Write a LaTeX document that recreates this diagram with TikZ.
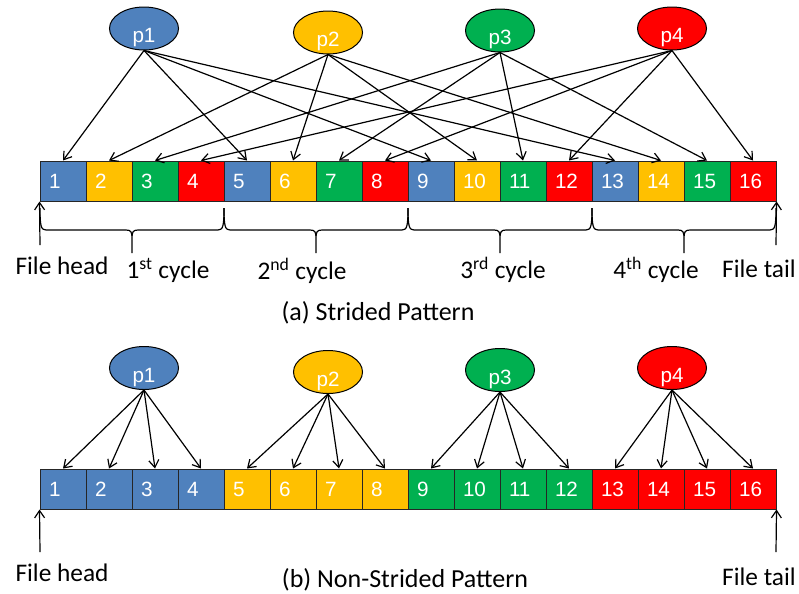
\documentclass[tikz,border=0pt]{standalone}
\usepackage{fontspec}
\setmainfont{Carlito}
\newfontfamily\arialfont{Liberation Sans}
\usetikzlibrary{shapes.geometric,arrows.meta}

\definecolor{pc0}{HTML}{4F81BD}
\definecolor{pc1}{HTML}{FFC000}
\definecolor{pc2}{HTML}{00B050}
\definecolor{pc3}{HTML}{FF0000}

\begin{document}
\begin{tikzpicture}[
  x=0.75pt,y=-0.75pt,
  block/.style={rectangle,draw=black!85,line width=0.75pt,minimum width=34.5pt,minimum height=30pt,inner xsep=6.75pt,inner ysep=0,text width=21pt,align=left,text=white,font={\arialfont\fontsize{15.5}{18}\selectfont}},
  proc/.style={ellipse,draw,line width=0.75pt,minimum width=51.75pt,minimum height=32.25pt,inner sep=0,text height=21pt,text depth=0pt,text=white,font={\arialfont\fontsize{15.5}{18}\selectfont}},
  access/.style={-{Straight Barb[length=5.5pt,width=7.5pt]},line width=0.9pt},
  bracket/.style={line width=0.9pt},
  lbl/.style={anchor=base,inner sep=0,font={\fontsize{19}{22}\selectfont}},
  caption/.style={lbl,font={\fontsize{19.5}{22}\selectfont}},
]
  \useasboundingbox (0,0) rectangle (799,593);

  % the two rows of file blocks
  \foreach \i in {1,...,16}{
    \pgfmathtruncatemacro\c{mod(\i-1,4)}
    \node[block,fill=pc\c] (t\i) at (17+46*\i,181) {\i};
    \pgfmathtruncatemacro\c{div(\i-1,4)}
    \node[block,fill=pc\c] (b\i) at (17+46*\i,489) {\i};
  }

  % processes
  \foreach \k/\x/\y in {1/144/28.5,2/328/32.5,3/500/30.5,4/672/28.5}{
    \pgfmathtruncatemacro\c{\k-1}
    \node[proc,fill=pc\c] (tp\k) at (\x,\y) {p\k};
    \node[proc,fill=pc\c] (bp\k) at (\x,\y+339.5) {p\k};
  }

  % strided: every fourth block
  \foreach \k in {1,...,4}
    \foreach \j in {0,4,8,12}{
      \pgfmathtruncatemacro\n{\k+\j}
      \draw[access] (tp\k.south) -- (t\n.north);
    }

  % non-strided: four blocks in a row
  \foreach \k in {1,...,4}
    \foreach \m in {1,...,4}{
      \pgfmathtruncatemacro\n{4*\k-4+\m}
      \draw[access] (bp\k.south) -- (b\n.north);
    }

  % cycles
  \foreach \c in {1,...,4}{
    \pgfmathsetmacro\xa{40+184*(\c-1)}
    \pgfmathsetmacro\xm{\xa+92}
    \pgfmathsetmacro\xb{\xa+184}
    \draw[bracket] (\xa,208) .. controls (\xa,226) and (\xa+1,230) .. (\xa+6,230)
      -- (\xm-6,230) .. controls (\xm-1,230) and (\xm,232) .. (\xm,238) -- (\xm,253)
      -- (\xm,238) .. controls (\xm,232) and (\xm+1,230) .. (\xm+6,230)
      -- (\xb-6,230) .. controls (\xb-1,230) and (\xb,226) .. (\xb,208);
  }

  \coordinate (thead) at (40,245);
  \coordinate (ttail) at (776,245);
  \coordinate (bhead) at (40,552);
  \coordinate (btail) at (776,552);
  \draw[access] (thead) -- (t1.south west);
  \draw[access] (ttail) -- (t16.south east);
  \draw[access] (bhead) -- (b1.south west);
  \draw[access] (btail) -- (b16.south east);

  \node[lbl] (lhead) at (62,274) {File head};
  \node[lbl] (ltail) at (759,277) {File tail};
  \node[lbl] (c1) at (168,278) {1\textsuperscript{st} cycle};
  \node[lbl] (c2) at (302,279) {2\textsuperscript{nd} cycle};
  \node[lbl] (c3) at (503,278) {3\textsuperscript{rd} cycle};
  \node[lbl] (c4) at (656,278) {4\textsuperscript{th} cycle};
  \node[caption] (capa) at (378,320) {(a) Strided Pattern};

  \node[lbl] (lheadb) at (62,581) {File head};
  \node[lbl] (ltailb) at (759,585) {File tail};
  \node[caption] (capb) at (405,587) {(b) Non-Strided Pattern};
\end{tikzpicture}
\end{document}
